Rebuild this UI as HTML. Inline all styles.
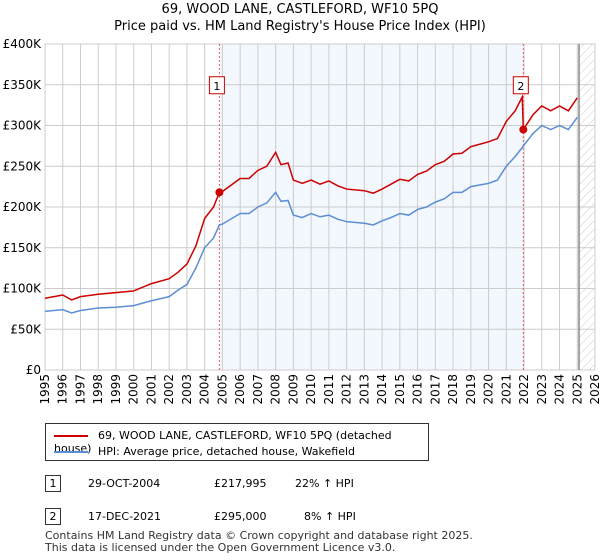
<!DOCTYPE html>
<html><head><meta charset="utf-8"><style>
body{margin:0;background:#fff;font-family:"DejaVu Sans","Liberation Sans",sans-serif;}
#wrap{position:relative;width:600px;height:560px;overflow:hidden;}
.t{position:absolute;font-size:12px;color:#000;white-space:nowrap;}
</style></head><body>
<div id="wrap">
<div class="t" style="left:0;width:600px;text-align:center;top:2px;font-size:13px;">69, WOOD LANE, CASTLEFORD, WF10 5PQ</div>
<div class="t" style="left:0;width:600px;text-align:center;top:19px;font-size:13px;">Price paid vs. HM Land Registry's House Price Index (HPI)</div>
<svg id="chart" width="600" height="420" style="position:absolute;left:0;top:0">
<defs><pattern id="hatch" width="6" height="6" patternUnits="userSpaceOnUse" patternTransform="rotate(45)"><line x1="0" y1="0" x2="0" y2="6" stroke="#ccc" stroke-width="1"/></pattern></defs>
<g id="g"></g></svg>
<div style="position:absolute;left:45px;top:423px;width:384px;height:38px;border:1px solid #333;box-sizing:border-box;">
<div style="position:absolute;left:8px;top:5px;font-size:11px;"><span style="display:inline-block;width:34px;border-top:2px solid #cc0000;vertical-align:middle;margin-right:10px"></span>69, WOOD LANE, CASTLEFORD, WF10 5PQ (detached house)</div>
<div style="position:absolute;left:8px;top:21px;font-size:11px;"><span style="display:inline-block;width:34px;border-top:2px solid #5b8fd4;vertical-align:middle;margin-right:10px"></span>HPI: Average price, detached house, Wakefield</div>
</div>
<div style="position:absolute;left:45px;top:475px;width:16px;height:17px;border:1px solid #333;box-sizing:border-box;font-size:11px;text-align:center;line-height:15px;">1</div>
<div class="t" style="left:88px;top:477px;font-size:11px;">29-OCT-2004</div>
<div class="t" style="left:214px;top:477px;font-size:11px;">£217,995</div>
<div class="t" style="left:295px;top:477px;font-size:11px;">22% ↑ HPI</div>
<div style="position:absolute;left:45px;top:508px;width:16px;height:17px;border:1px solid #333;box-sizing:border-box;font-size:11px;text-align:center;line-height:15px;">2</div>
<div class="t" style="left:88px;top:510px;font-size:11px;">17-DEC-2021</div>
<div class="t" style="left:214px;top:510px;font-size:11px;">£295,000</div>
<div class="t" style="left:304px;top:510px;font-size:11px;">8% ↑ HPI</div>
<div class="t" style="left:45px;top:530px;font-size:11px;line-height:12px;color:#333">Contains HM Land Registry data © Crown copyright and database right 2025.<br>This data is licensed under the Open Government Licence v3.0.</div>
</div>
<script>
const years=[1995,1996,1996.5,1997,1998,1999,2000,2001,2002,2002.5,2003,2003.5,2004,2004.5,2004.83,2005,2006,2006.5,2007,2007.5,2008,2008.3,2008.7,2009,2009.5,2010,2010.5,2011,2011.5,2012,2013,2013.5,2014,2014.5,2015,2015.5,2016,2016.5,2017,2017.5,2018,2018.5,2019,2019.5,2020,2020.5,2021,2021.5,2021.9,2021.96,2022.5,2023,2023.5,2024,2024.5,2025];
const hpi=[72,74,70,73,76,77,79,85,90,98,105,125,150,162,178,179,192,192,200,205,218,207,208,190,187,192,188,190,185,182,180,178,183,187,192,190,197,200,206,210,218,218,225,227,229,233,250,262,273,275,290,300,295,300,295,310];
const price=[88,92,86,90,93,95,97,106,112,120,130,152,186,200,218,219,235,235,245,250,267,252,254,233,229,233,228,232,226,222,220,217,222,228,234,232,240,244,252,256,265,266,274,277,280,284,305,318,335,295,313,324,318,324,318,334];
const yTicks=[0,50,100,150,200,250,300,350,400];
const yLabels=["£0","£50K","£100K","£150K","£200K","£250K","£300K","£350K","£400K"];
const xTicks=[1995,1996,1997,1998,1999,2000,2001,2002,2003,2004,2005,2006,2007,2008,2009,2010,2011,2012,2013,2014,2015,2016,2017,2018,2019,2020,2021,2022,2023,2024,2025,2026];
const sales=[{n:"1",t:2004.83,v:217.995},{n:"2",t:2021.96,v:295}];
const X0=45,X1=595,Y0=370,Y1=44;
const x=t=>X0+(t-1995)/(2026-1995)*(X1-X0);
const y=v=>Y0-v/400*(Y0-Y1);
const g=document.getElementById('g');const NS='http://www.w3.org/2000/svg';
function mk(tag,attrs,name){const e=document.createElementNS(NS,tag);for(const k in attrs)e.setAttribute(k,attrs[k]);


g.appendChild(e);return e;}
mk('rect',{x:x(sales[0].t),y:Y1,width:x(sales[1].t)-x(sales[0].t),height:Y0-Y1,fill:'#eef3fd',opacity:0.7},'owned-period-shade');
mk('rect',{x:x(2025.1),y:Y1,width:X1-x(2025.1),height:Y0-Y1,fill:'url(#hatch)'},'forecast-hatch');
yTicks.forEach((v,i)=>{mk('line',{x1:X0,x2:X1,y1:y(v),y2:y(v),stroke:'#ccc'},'y-gridline');
const t=mk('text',{x:X0-4,y:y(v)+4,'text-anchor':'end','font-size':12,fill:'#000'},'y-tick-label');t.textContent=yLabels[i];});
xTicks.forEach(v=>{mk('line',{x1:x(v),x2:x(v),y1:Y1,y2:Y0,stroke:'#ccc'},'x-gridline');
const t=mk('text',{x:x(v)+4,y:Y0+4,'text-anchor':'end','font-size':12,fill:'#000',transform:`rotate(-90 ${x(v)+4} ${Y0+4})`},'x-tick-label');t.textContent=v;});
mk('rect',{x:X0,y:Y1,width:X1-X0,height:Y0-Y1,fill:'none',stroke:'#ccc'},'plot-border');
mk('line',{x1:x(2025.1),x2:x(2025.1),y1:Y1,y2:Y0,stroke:'#888','stroke-width':1.5},'data-end-line');
sales.forEach(s=>mk('line',{x1:x(s.t),x2:x(s.t),y1:Y1,y2:Y0,stroke:'#f06060','stroke-dasharray':'2,2'},'sale-marker-line'));
mk('polyline',{points:years.map((t,i)=>x(t)+','+y(hpi[i])).join(' '),fill:'none',stroke:'#5b8fd4','stroke-width':1.5},'hpi-line');
mk('polyline',{points:years.map((t,i)=>x(t)+','+y(price[i])).join(' '),fill:'none',stroke:'#cc0000','stroke-width':1.5},'price-line');
sales.forEach(s=>{mk('circle',{cx:x(s.t),cy:y(s.v),r:4,fill:'#cc0000'},'sale-point');
const bx=x(s.t)-10;mk('rect',{x:bx,y:y(350)-8,width:15,height:17,fill:'#fff',stroke:'#cc0000'},'sale-label-box');
const t=mk('text',{x:bx+7.5,y:y(350)+5,'text-anchor':'middle','font-size':11,fill:'#000'},'sale-label');t.textContent=s.n;});
</script>
</body></html>
